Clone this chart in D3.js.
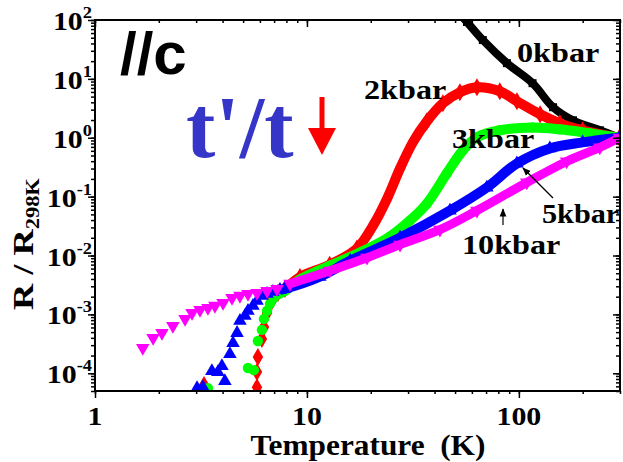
<!DOCTYPE html>
<html>
<head>
<meta charset="utf-8">
<script src="https://cdn.jsdelivr.net/npm/d3@7/dist/d3.min.js"></script>
<style>
  body { margin: 0; background: #fff; }
  text { font-family: "Liberation Serif", "Times New Roman", serif; font-weight: bold; }
</style>
</head>
<body>
<svg id="chart" width="623" height="462"></svg>
<script>
'use strict';

// values: temperature (K) and R / R(298K)
// 0 kbar (black squares)
var t0 = [50, 56.9, 67.6, 87.8, 116, 145, 180, 241, 298];
var r0 = [155, 92.5, 45.6, 18.5, 8.45, 3.30, 1.98, 1.34, 1.0];

// 2 kbar (red diamonds) - scattered low-T points, then the dense curve
var t2Low = [3.27, 5.81, 5.81, 5.87, 6.13, 6.27, 6.48, 6.84];
var r2Low = [6.3e-5, 5.8e-5, 1.05e-4, 1.89e-4, 3.83e-4, 6.12e-4, 1.06e-3, 1.70e-3];
var t2 = [7.3, 7.87, 9.27, 12.8, 17.2, 20.5, 23.9, 27.5, 31.6, 36.8, 43.8, 52.7, 63.4, 81.3, 97.9, 126, 156, 200, 298];
var r2 = [2.32e-3, 2.72e-3, 4.3e-3, 6.97e-3, 0.0131, 0.0322, 0.0929, 0.301, 0.835, 1.90, 3.85, 5.93, 7.22, 6.17, 4.17, 2.50, 1.76, 1.34, 1.0];

// 3 kbar (green circles)
var t3Low = [3.41, 5.27, 5.62, 5.87, 6.13, 6.27, 6.48, 6.69, 6.99];
var r3Low = [5.6e-5, 1.23e-4, 1.13e-4, 3.54e-4, 5.45e-4, 8.37e-4, 1.15e-3, 1.51e-3, 1.91e-3];
var t3 = [7.38, 7.87, 9.27, 12.8, 17.8, 24.6, 30.6, 36.8, 45.7, 54.4, 63.4, 81.3, 116, 156, 216, 298];
var r3 = [2.23e-3, 2.51e-3, 3.9e-3, 6.70e-3, 0.0112, 0.0209, 0.0392, 0.0762, 0.248, 0.61, 1.02, 1.34, 1.50, 1.39, 1.19, 1.0];

// 5 kbar (blue up-triangles)
var t5Low = [3.03, 3.23, 3.56, 3.80, 3.97, 4.10, 4.33, 4.48, 4.68, 4.83, 5.10, 5.27, 5.56, 5.81, 6.13, 6.48, 6.91];
var r5Low = [5.6e-5, 5.8e-5, 1.09e-4, 1.05e-4, 1.33e-4, 7.4e-5, 2.12e-4, 3.27e-4, 4.84e-4, 7.74e-4, 9.42e-4, 1.15e-3, 1.40e-3, 1.70e-3, 2.07e-3, 2.23e-3, 2.42e-3];
var t5 = [7.46, 7.87, 11.5, 16.0, 27.5, 47.3, 70.6, 97.9, 140, 200, 298];
var r5 = [2.61e-3, 2.72e-3, 4.36e-3, 8.15e-3, 0.0201, 0.058, 0.143, 0.366, 0.659, 0.835, 1.0];

// 10 kbar (magenta down-triangles)
var t10Low = [1.68, 1.88, 2.07, 2.33, 2.66, 2.87, 3.13, 3.41, 3.68, 4.02, 4.43, 4.83, 5.27, 5.81, 6.48, 7.22];
var r10Low = [2.69e-4, 3.98e-4, 4.84e-4, 6.37e-4, 8.37e-4, 1.06e-3, 1.19e-3, 1.29e-3, 1.40e-3, 1.57e-3, 1.91e-3, 2.07e-3, 2.23e-3, 2.32e-3, 2.51e-3, 2.72e-3];
var t10 = [8.32, 12.8, 19.2, 27.5, 42.4, 63.4, 109, 168, 241, 298];
var r10 = [3.31e-3, 5.51e-3, 9.18e-3, 0.0153, 0.0275, 0.058, 0.174, 0.396, 0.686, 1.0];

// axis tick labels
var xTickVals = [1, 10, 100];
var xTickLabels = ['1', '10', '100'];
var yTickVals = [1e-4, 1e-3, 1e-2, 1e-1, 1, 10, 100];
var yTickExps = ['-4', '-3', '-2', '-1', '0', '1', '2'];

// plot box
var boxL = 95, boxR = 620, boxT = 20, boxB = 391;

var svg = d3.select('#chart');

var x = d3.scaleLog().domain([1, 300]).range([boxL, boxR]);
var y = d3.scaleLog().domain([5e-5, 100]).range([boxB, boxT]);

function zip(ts, rs) {
  return ts.map(function(t, i) { return [t, rs[i]]; });
}

// stretched text, the original export uses wide glyphs
function label(parent, px, py, str, size, sx, anchor, fill) {
  return parent.append('text')
    .attr('transform', 'translate(' + px + ',' + py + ') scale(' + sx + ',1)')
    .attr('text-anchor', anchor || 'start')
    .style('font-size', size + 'px')
    .style('fill', fill || '#000')
    .text(str);
}

var defs = svg.append('defs');
defs.append('clipPath').attr('id', 'plotclip')
  .append('rect')
  .attr('x', boxL).attr('y', boxT)
  .attr('width', boxR - boxL).attr('height', boxB - boxT);

var plot = svg.append('g').attr('clip-path', 'url(#plotclip)');

var series = [
  { low: [], dense: zip(t0, r0), color: '#000000', sym: d3.symbolSquare, size: 64, rot: 0, band: 8 },
  { low: zip(t2Low, r2Low), dense: zip(t2, r2), color: '#ff0000', sym: d3.symbolDiamond, size: 95, rot: 0, band: 10 },
  { low: zip(t3Low, r3Low), dense: zip(t3, r3), color: '#00ff00', sym: d3.symbolCircle, size: 85, rot: 0, band: 10 },
  { low: zip(t5Low, r5Low), dense: zip(t5, r5), color: '#0000ff', sym: d3.symbolTriangle, size: 80, rot: 0, band: 10 },
  { low: zip(t10Low, r10Low), dense: zip(t10, r10), color: '#ff00ff', sym: d3.symbolTriangle, size: 80, rot: 180, band: 9 }
];

var line = d3.line()
  .x(function(d) { return x(d[0]); })
  .y(function(d) { return y(d[1]); })
  .curve(d3.curveCatmullRom);

series.forEach(function(s) {
  plot.append('path')
    .attr('d', line(s.dense))
    .attr('fill', 'none')
    .attr('stroke', s.color)
    .attr('stroke-width', s.band)
    .attr('stroke-linejoin', 'round');

  var shape = d3.symbol().type(s.sym).size(s.size);
  plot.selectAll(null)
    .data(s.low.concat(s.dense))
    .enter()
    .append('path')
    .attr('d', shape)
    .attr('transform', function(d) {
      return 'translate(' + x(d[0]) + ',' + y(d[1]) + ') rotate(' + s.rot + ')';
    })
    .attr('fill', s.color);
});

// axes: outward on bottom/left, inward mirrored on top/right
function ticks(axis, pos, len, vals) {
  var g = svg.append('g').attr('transform', pos)
    .call(axis.tickValues(vals).tickSize(len).tickFormat(''));
  g.select('.domain').remove();
  g.selectAll('line').attr('stroke', '#000').attr('stroke-width', 1.5);
}

var xMinor = x.ticks(), yMinor = y.ticks();

ticks(d3.axisBottom(x), 'translate(0,' + boxB + ')', 3, xMinor);
ticks(d3.axisBottom(x), 'translate(0,' + boxB + ')', 7, xTickVals);
ticks(d3.axisTop(x), 'translate(0,' + boxT + ')', -3, xMinor);
ticks(d3.axisTop(x), 'translate(0,' + boxT + ')', -7, xTickVals);
ticks(d3.axisLeft(y), 'translate(' + boxL + ',0)', 4, yMinor);
ticks(d3.axisLeft(y), 'translate(' + boxL + ',0)', 7, yTickVals);
ticks(d3.axisRight(y), 'translate(' + boxR + ',0)', -4, yMinor);
ticks(d3.axisRight(y), 'translate(' + boxR + ',0)', -7, yTickVals);

svg.append('rect')
  .attr('x', boxL).attr('y', boxT)
  .attr('width', boxR - boxL).attr('height', boxB - boxT)
  .attr('fill', 'none')
  .attr('stroke', '#000')
  .attr('stroke-width', 2);

// tick labels
xTickVals.forEach(function(v, i) {
  label(svg, x(v), 425, xTickLabels[i], 26, 1.15, 'middle');
});

yTickVals.forEach(function(v, i) {
  var t = svg.append('text')
    .attr('transform', 'translate(' + 92 + ',' + (y(v) + 10) + ') scale(1.15,1)')
    .attr('text-anchor', 'end')
    .style('font-size', '26px');
  t.append('tspan').text('10');
  t.append('tspan').attr('dy', -12).style('font-size', '16px').text(yTickExps[i]);
});

// axis titles
label(svg, 368, 455, 'Temperature\u00a0\u00a0(K)', 29, 1.08, 'middle');

var yt = svg.append('text')
  .attr('transform', 'translate(33,244) rotate(-90) scale(1.25,1)')
  .attr('text-anchor', 'middle')
  .style('font-size', '29px');
yt.append('tspan').text('R / R');
yt.append('tspan').attr('dy', 6).style('font-size', '18px').text('298K');

// annotations
svg.append('text')
  .attr('x', 120).attr('y', 74)
  .style('font-family', '"Liberation Sans", Arial, sans-serif')
  .style('font-size', '60px')
  .style('fill', '#000')
  .text('//c');

svg.append('text')
  .attr('x', 186).attr('y', 157)
  .style('font-size', '88px')
  .style('fill', '#3535c8')
  .text("t'/t");

// red arrow pointing down
svg.append('rect')
  .attr('x', 319.5).attr('y', 97)
  .attr('width', 5).attr('height', 32)
  .attr('fill', '#ff0000');
svg.append('path')
  .attr('d', 'M308,128 L336,128 L322,155 Z')
  .attr('fill', '#ff0000');

label(svg, 517, 62, '0kbar', 28, 1.15);
label(svg, 364, 99, '2kbar', 28, 1.15);
label(svg, 452, 148, '3kbar', 28, 1.15);
label(svg, 542, 223, '5kbar', 28, 1.08);
label(svg, 462, 254, '10kbar', 28, 1.15);

defs.append('marker')
  .attr('id', 'head')
  .attr('viewBox', '0 0 10 10')
  .attr('refX', 9).attr('refY', 5)
  .attr('markerWidth', 7).attr('markerHeight', 7)
  .attr('orient', 'auto')
  .append('path')
  .attr('d', 'M0,1 L10,5 L0,9 Z')
  .attr('fill', '#000');

svg.append('line')
  .attr('x1', 553).attr('y1', 198)
  .attr('x2', 523).attr('y2', 168)
  .attr('stroke', '#000').attr('stroke-width', 1.2)
  .attr('marker-end', 'url(#head)');

svg.append('line')
  .attr('x1', 503).attr('y1', 225)
  .attr('x2', 503).attr('y2', 209)
  .attr('stroke', '#000').attr('stroke-width', 1.2)
  .attr('marker-end', 'url(#head)');
</script>
</body>
</html>
